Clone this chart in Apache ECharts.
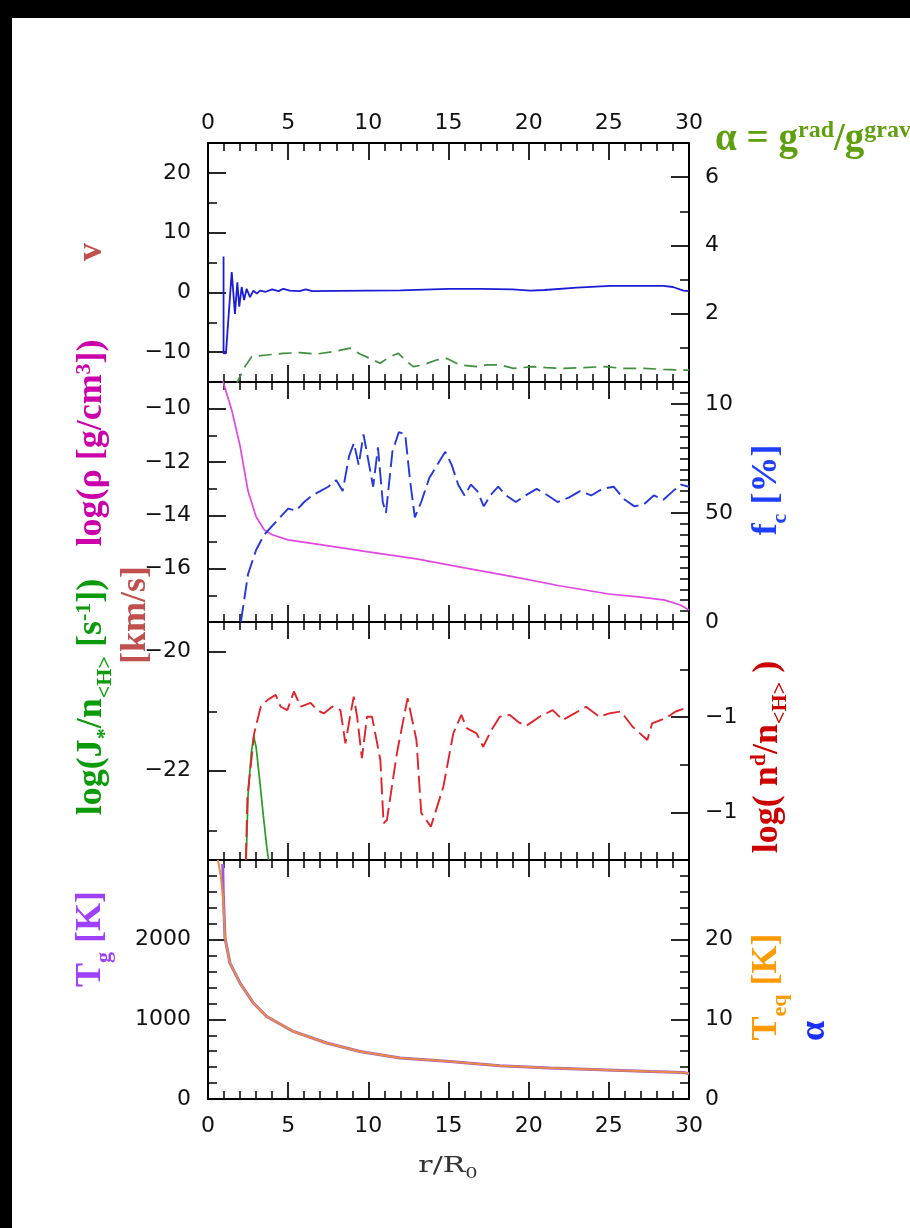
<!DOCTYPE html>
<html><head><meta charset="utf-8">
<script src="https://cdn.jsdelivr.net/npm/echarts@6/dist/echarts.min.js"></script>
<style>
html,body{margin:0;padding:0;background:#000;width:910px;height:1228px;overflow:hidden;}
#paper{position:absolute;left:12px;top:18px;width:898px;height:1210px;background:#fff;}
#chart{position:absolute;left:0;top:0;width:910px;height:1228px;}
</style></head><body>
<div id="paper"></div><div id="chart"></div>
<script>
// ---------- DATA ----------
// Panel 1: velocity v [km/s] (left) and alpha = g_rad/g_grav (right)
const velR = [0.97,0.97,1.12,1.48,1.68,1.83,1.95,2.1,2.25,2.41,2.62,2.83,3.04,3.25,3.6,4.0,4.4,4.7,5.1,5.7,6.1,6.5,8,10,12,15,17,19,20.1,21,23,25.1,27,28.4,29,29.65,30];
const velV = [6.0,-10.2,-10.2,3.4,-3.6,1.7,-2.4,0.9,-1.3,0.6,-0.8,0.3,-0.2,0.3,0.1,0.5,0.2,0.6,0.3,0.2,0.5,0.2,0.25,0.3,0.35,0.6,0.6,0.5,0.3,0.4,0.8,1.1,1.1,1.1,0.9,0.3,0.2];
const alphaR = [1.75,1.89,2.3,2.72,3.66,4.7,5.74,6.78,7.82,8.86,9.48,10.1,10.73,11.35,11.87,12.4,12.8,13.4,14.3,14.9,15.7,16.76,17.4,18.2,19.05,20.3,21.1,22.2,23.4,24.7,25.9,27.2,28.4,29.65,30];
const alphaV = [-0.1,0.06,0.45,0.74,0.79,0.84,0.86,0.82,0.89,0.99,0.82,0.69,0.55,0.74,0.84,0.6,0.45,0.5,0.65,0.69,0.5,0.45,0.5,0.5,0.4,0.45,0.42,0.4,0.42,0.45,0.4,0.4,0.37,0.35,0.35];
// Panel 2: log rho (left) and f_c [%] (right)
const rhoR = [0.9,1.0,1.5,2.0,2.5,3.0,3.5,4.0,5.0,7.0,10,13,16,19,22,25,27,28.5,29.5,30];
const rhoV = [-8.9,-9.1,-10.1,-11.4,-13.1,-14.05,-14.54,-14.73,-14.92,-15.1,-15.37,-15.63,-15.97,-16.3,-16.65,-16.95,-17.07,-17.18,-17.37,-17.55];
const fcR = [2.05,2.5,3.0,3.5,4.0,4.5,5.0,5.5,6.0,6.5,7.0,7.5,8.0,8.4,8.8,9.1,9.4,9.7,10.0,10.3,10.6,10.9,11.1,11.5,11.9,12.3,12.6,12.9,13.3,13.8,14.3,14.8,15.2,15.6,16.0,16.4,16.8,17.2,17.6,18.1,18.6,19.2,19.8,20.5,21.2,21.8,22.5,23.2,23.9,24.6,25.3,26.0,26.6,27.2,27.8,28.4,29.0,29.5,30.0];
const fcV = [0,22,33,40,44,48,52,51,55,58,60,62,65,60,76,82,72,86,74,62,80,55,50,78,87,86,65,48,55,66,72,78,72,63,58,63,60,53,58,62,58,55,58,61,58,55,57,60,58,61,62,56,53,54,58,56,60,63,62];
// Panel 3: log(J*/n<H>) (left) and log(n^d/n<H>) (right)
const jR = [2.38,2.5,2.7,2.85,3.0,3.2,3.45,3.65,3.78];
const jV = [-23.5,-22.4,-21.7,-21.42,-21.6,-22.1,-22.75,-23.25,-23.5];
const ndR = [2.36,2.46,2.88,3.29,3.71,4.22,4.53,4.95,5.36,5.78,6.4,6.81,7.22,7.74,8.26,8.57,8.88,9.09,9.3,9.6,9.92,10.23,10.75,10.95,11.16,11.78,12.45,13.0,13.3,13.9,14.68,15.3,15.8,16.13,16.75,17.16,17.68,18.2,18.8,19.44,19.86,20.68,21.5,22.13,22.86,23.58,24.4,25.03,25.76,26.48,27.4,27.7,28.55,29.17,29.8];
const ndV = [-13.0,-11.67,-10.34,-9.78,-9.64,-9.53,-9.78,-9.85,-9.46,-9.78,-9.70,-9.85,-9.92,-9.78,-9.85,-10.55,-9.95,-9.57,-9.99,-10.86,-9.99,-9.99,-10.90,-12.23,-12.16,-10.76,-9.60,-10.48,-12.01,-12.30,-11.46,-10.34,-9.95,-10.23,-10.34,-10.62,-10.27,-9.99,-9.95,-10.12,-10.18,-9.99,-9.85,-10.06,-9.92,-9.78,-9.99,-9.92,-9.88,-10.20,-10.48,-10.13,-10.02,-9.88,-9.81];
// Panel 4: T_g [K] (left) and T_eq [K] (right)
const tgR = [0.92,0.95,1.06,1.37,2.0,2.83,3.66,5.32,7.4,9.48,11.98,15.1,18.2,21.3,24.45,27.6,29.65,30];
const tgV = [2950,2600,2020,1706,1455,1205,1036,848,703,597,514,472,418,389,368,346,334,317];
const teqR = [0.62,0.8,0.95,1.06,1.37,2.0,2.83,3.66,5.32,7.4,9.48,11.98,15.1,18.2,21.3,24.45,27.6,29.65,30];
const teqV = [3000,2800,2500,2020,1706,1455,1205,1036,848,703,597,514,472,418,389,368,346,334,317];

// ---------- TICKS / LABELS ----------
const xRange = [0, 30];
const p1LeftMajor = [-10,0,10,20], p1LeftMinor = [-5,5,15], p1LeftLabels = ['\u221210','0','10','20'];
const p1RightMajor = [2,4,6], p1RightMinor = [1,3,5], p1RightLabels = ['2','4','6'];
const p2LeftMajor = [-16,-14,-12,-10], p2LeftMinor = [-17,-15,-13,-11], p2LeftLabels = ['\u221216','\u221214','\u221212','\u221210'];
const p2RightMajor = [0,50,100], p2RightMinor = [5,10,15,20,25,30,35,40,45,55,60,65,70,75,80,85,90,95,105], p2RightLabels = ['0','50','10'];
const p3LeftMajor = [-22,-20], p3LeftMinor = [-23,-21], p3LeftLabels = ['\u221222','\u221220'];
const p3RightMajor = [-12,-10], p3RightMinor = [-11,-9], p3RightLabels = ['\u22121','\u22121'];
const p4LeftMajor = [0,1000,2000], p4LeftMinor = [200,400,600,800,1200,1400,1600,1800,2200,2400,2600,2800], p4LeftLabels = ['0','1000','2000'];
const p4RightMajor = [0,1000,2000], p4RightMinor = [200,400,600,800,1200,1400,1600,1800,2200,2400,2600,2800], p4RightLabels = ['0','10','20'];

const ranges = {
  p1L:[-15,25], p1R:[0,7], p2L:[-18,-9], p2R:[0,110], p3L:[-23.5,-19.5], p3R:[-13,-8], p4L:[0,3000], p4R:[0,3000]
};

// ---------- LAYOUT ----------
const grids = [
  {left:208, width:481, top:143, height:239},
  {left:208, width:481, top:382, height:240},
  {left:208, width:481, top:622, height:238},
  {left:208, width:481, top:860, height:239}
];
const BLACK = '#000';
const tickFont = {color:'#111', fontFamily:'DejaVu Sans', fontSize:22};

function xAx(gi, pos, showLabels){
  return {type:'value', gridIndex:gi, position:pos, min:xRange[0], max:xRange[1], interval:5,
    axisLine:{show:true, onZero:false, lineStyle:{color:BLACK, width:2}},
    axisTick:{show:true, inside:true, length:17, lineStyle:{color:BLACK, width:1.7}},
    minorTick:{show:true, splitNumber:5, length:8, lineStyle:{color:BLACK, width:1.5}},
    axisLabel:Object.assign({show:showLabels, margin: pos==='top'?9:16}, tickFont),
    splitLine:{show:false}, minorSplitLine:{show:false}};
}
function yAx(gi, pos, rng, major, minor, labels){
  const fmt = v => { for (let i=0;i<major.length;i++) if (Math.abs(v-major[i])<1e-6) return labels[i]; return ''; };
  return [
    {type:'value', gridIndex:gi, position:pos, min:rng[0], max:rng[1],
      axisLine:{show:true, onZero:false, lineStyle:{color:BLACK, width:2}},
      axisTick:{show:true, inside:true, length:18, customValues:major, lineStyle:{color:BLACK, width:1.7}},
      axisLabel:Object.assign({show:true, customValues:major, formatter:fmt, margin: pos==='left'?17:16}, tickFont),
      splitLine:{show:false}},
    {type:'value', gridIndex:gi, position:pos, min:rng[0], max:rng[1],
      axisLine:{show:false, onZero:false},
      axisTick:{show:true, inside:true, length:9, customValues:minor, lineStyle:{color:BLACK, width:1.5}},
      axisLabel:{show:false}, splitLine:{show:false}}
  ];
}

const xAxis = [];
for (let g=0; g<4; g++){ xAxis.push(xAx(g,'bottom', g===3)); xAxis.push(xAx(g,'top', g===0)); }
const yAxis = [].concat(
  yAx(0,'left',ranges.p1L,p1LeftMajor,p1LeftMinor,p1LeftLabels),
  yAx(0,'right',ranges.p1R,p1RightMajor,p1RightMinor,p1RightLabels),
  yAx(1,'left',ranges.p2L,p2LeftMajor,p2LeftMinor,p2LeftLabels),
  yAx(1,'right',ranges.p2R,p2RightMajor,p2RightMinor,p2RightLabels),
  yAx(2,'left',ranges.p3L,p3LeftMajor,p3LeftMinor,p3LeftLabels),
  yAx(2,'right',ranges.p3R,p3RightMajor,p3RightMinor,p3RightLabels),
  yAx(3,'left',ranges.p4L,p4LeftMajor,p4LeftMinor,p4LeftLabels),
  yAx(3,'right',ranges.p4R,p4RightMajor,p4RightMinor,p4RightLabels)
);

function pairs(r,v){ return r.map((x,i)=>[x,v[i]]); }
function line(xi, yi, r, v, color, width, dash){
  return {type:'line', xAxisIndex:xi, yAxisIndex:yi, data:pairs(r,v), showSymbol:false, symbol:'none',
    clip:true, animation:false, lineStyle:{color:color, width:width, type: dash || 'solid'}};
}
const series = [
  line(0,0,velR,velV,'#1c1cd6',1.8),
  line(0,2,alphaR,alphaV,'#3f8f3f',1.7,[13,7]),
  line(2,4,rhoR,rhoV,'#e048e0',1.7),
  line(2,6,fcR,fcV,'#2438dc',1.9,[17,6]),
  line(4,8,jR,jV,'#22a022',1.7),
  line(4,10,ndR,ndV,'#e0242c',1.9,[17,6]),
  line(6,12,tgR,tgV,'#9a5ad8',3),
  line(6,14,teqR,teqV,'#e98a45',2)
];

// ---------- AXIS TITLES ----------
function title(parts, color, x, y, rotate, S, s, opts){
  opts = opts || {};
  const fam = opts.family || 'Liberation Serif', wt = opts.weight || 'bold';
  const hasRich = parts.some(p => p[1] !== 'n');
  const rot = rotate ? Math.PI/2 : 0;
  const base = {type:'text', x:x, y:y, rotation:rot, z:100};
  if (opts.scaleX) base.scaleX = opts.scaleX;
  if (!hasRich){
    base.style = {text:parts.map(p=>p[0]).join(''), fill:color, fontSize:S, fontFamily:fam, fontWeight:wt,
        align:opts.align||'center', verticalAlign:opts.valign||'middle'};
    return base;
  }
  const pb = Math.round(S/6);
  const L = Math.round(S/2 + pb + s/2 + 0.22*S);
  const rich = {
    n:{fill:color, fontSize:S, fontFamily:fam, fontWeight:wt, verticalAlign:'bottom', padding:[0,0,pb,0]},
    sup:{fill:color, fontSize:s, fontFamily:fam, fontWeight:wt, verticalAlign:'top', padding:[0,0,Math.max(0,L-s),0]},
    sub:{fill:color, fontSize:s, fontFamily:fam, fontWeight:wt, verticalAlign:'bottom'}
  };
  const txt = parts.map(p => '{' + p[1] + '|' + p[0] + '}').join('');
  base.style = {text:txt, rich:rich, fill:color, fontSize:S, fontFamily:fam, fontWeight:wt,
      align:opts.align||'center', verticalAlign:opts.valign||'middle'};
  return base;
}
const graphic = [
  title([['\u03b1 = g','n'],['rad','sup'],['/g','n'],['grav','sup']], '#5f9e0f', 715, 119, false, 39, 24, {align:'left', valign:'top'}),
  title([['v','n']], '#c0504d', 92, 252, true, 36, 22),
  title([['log(\u03c1 [g/cm','n'],['3','sup'],['])','n']], '#cc00aa', 94.5, 443, true, 36, 22),
  title([['[km/s]','n']], '#c0504d', 135.5, 615, true, 36, 22),
  title([['log(J','n'],['*','sub'],['/n','n'],['<H>','sub'],[' [s','n'],['-1','sup'],['])','n']], '#0a9a0a', 94.5, 697, true, 36, 22),
  title([['T','n'],['g','sub'],[' [K]','n']], '#a040ff', 94, 939, true, 36, 22),
  title([['f','n'],['c','sub'],[' [%]','n']], '#1f3fff', 770, 490, true, 36, 22),
  title([['log( n','n'],['d','sup'],['/n','n'],['<H>','sub'],[' )','n']], '#cc0000', 770, 757, true, 36, 22),
  title([['T','n'],['eq','sub'],[' [K]','n']], '#ff9900', 770, 987, true, 36, 22),
  title([['\u03b1','n']], '#1a2eff', 815, 1031, true, 36, 22),
  title([['r/R','n'],['0','sub']], '#333', 448, 1168, false, 23, 15, {weight:'normal', family:'DejaVu Serif', scaleX:1.3})
];

const chart = echarts.init(document.getElementById('chart'), null, {renderer:'canvas', width:910, height:1228});
chart.setOption({
  backgroundColor:'transparent',
  animation:false,
  grid:grids,
  xAxis:xAxis,
  yAxis:yAxis,
  series:series,
  graphic:graphic
});
</script></body></html>
